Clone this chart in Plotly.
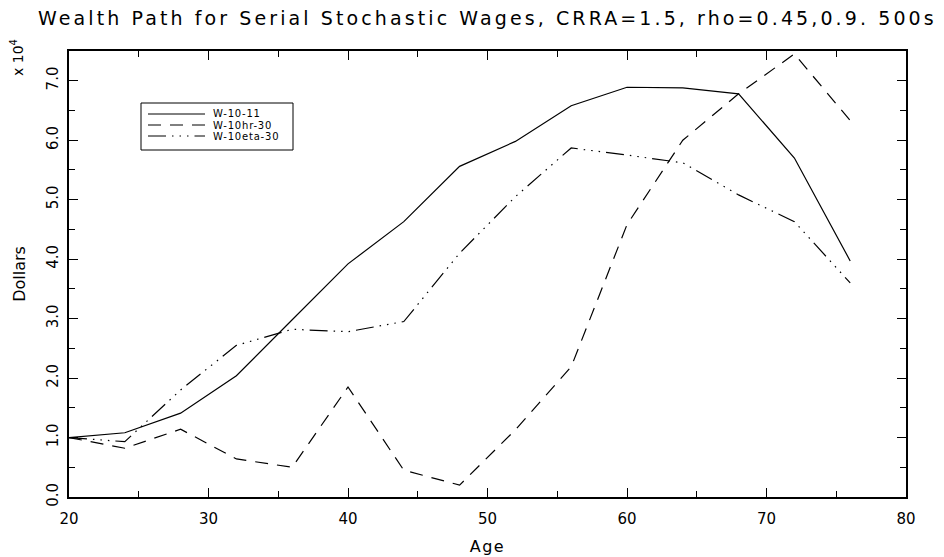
import plotly.graph_objects as go

# Ages at which wealth is recorded
ages = [20, 24, 28, 32, 36, 40, 44, 48, 52, 56, 60, 64, 68, 72, 76]

# Mean wealth paths, in units of 10^4 dollars
w_10_11 = [1.00, 1.08, 1.41, 2.04, 2.98, 3.92, 4.63, 5.56, 5.98, 6.58, 6.89, 6.88, 6.78, 5.70, 3.97]
w_10hr_30 = [1.00, 0.82, 1.14, 0.64, 0.50, 1.85, 0.45, 0.20, 1.13, 2.19, 4.58, 6.00, 6.78, 7.45, 6.33]
w_10eta_30 = [1.00, 0.93, 1.80, 2.55, 2.82, 2.78, 2.95, 4.10, 5.05, 5.87, 5.75, 5.62, 5.08, 4.63, 3.60]

series_names = ["W-10-11", "W-10hr-30", "W-10eta-30"]

x_ticks = [20, 30, 40, 50, 60, 70, 80]
y_ticks = [0, 1, 2, 3, 4, 5, 6, 7]
y_tick_text = ["0.0", "1.0", "2.0", "3.0", "4.0", "5.0", "6.0", "7.0"]

FONT = "DejaVu Sans"
W, H = 944, 557
ML, MR, MT, MB = 69, 38, 51, 60
PW, PH = W - ML - MR, H - MT - MB

DASHES = ["solid", "13px,9px", "18px,6px,1.5px,6px,1.5px,6px,1.5px,6px"]


def px(xpix):
    """Page x pixel -> paper coordinate."""
    return (xpix - ML) / PW


def py(ypix):
    """Page y pixel -> paper coordinate."""
    return (H - MB - ypix) / PH


def spaced(text, gap):
    return f'<span style="letter-spacing:{gap}px">{text}</span>'


fig = go.Figure()
for name, vals, dash in zip(series_names, [w_10_11, w_10hr_30, w_10eta_30], DASHES):
    fig.add_trace(go.Scatter(x=ages, y=vals, mode="lines", name=name, showlegend=False,
                             line=dict(color="black", width=1.2, dash=dash)))

fig.update_layout(
    width=W, height=H,
    margin=dict(l=ML, r=MR, t=MT, b=MB, autoexpand=False),
    paper_bgcolor="white", plot_bgcolor="white",
    font=dict(family=FONT, color="black", size=14),
    title=dict(text=spaced("Wealth Path for Serial Stochastic Wages, CRRA=1.5, rho=0.45,0.9. 500s", 3.1),
               x=38 / W, xanchor="left", y=1 - 18 / H, yanchor="middle",
               font=dict(family=FONT, size=19, color="black")),
    showlegend=False,
)

fig.update_xaxes(
    range=[20, 80], tickvals=x_ticks, ticktext=[str(v) for v in x_ticks],
    ticks="inside", ticklen=9, tickwidth=1, tickcolor="black", ticklabelstandoff=7,
    showline=True, linecolor="black", linewidth=2, mirror="allticks",
    showgrid=False, zeroline=False, automargin=False,
    tickfont=dict(family=FONT, size=15, color="black"),
    minor=dict(dtick=5, tick0=0, ticks="inside", ticklen=6, tickwidth=1, tickcolor="black"),
    title=dict(text=spaced("Age", 1.5), font=dict(family=FONT, size=16, color="black"), standoff=14),
)
fig.update_yaxes(
    range=[0, 7.5], tickvals=y_ticks, ticktext=y_tick_text, tickangle=-90,
    ticks="inside", ticklen=9, tickwidth=1, tickcolor="black", ticklabelstandoff=3,
    showline=True, linecolor="black", linewidth=2, mirror="allticks",
    showgrid=False, zeroline=False, automargin=False,
    tickfont=dict(family=FONT, size=15, color="black"),
    minor=dict(dtick=0.5, tick0=0, ticks="inside", ticklen=6, tickwidth=1, tickcolor="black"),
    title=dict(text="Dollars", font=dict(family=FONT, size=16, color="black"), standoff=14),
)

# Exponent marker for the y axis scale
fig.add_annotation(text="x 10<sup>4</sup>", xref="paper", yref="paper",
                   x=px(17), y=py(58), xanchor="center", yanchor="middle",
                   textangle=-90, showarrow=False,
                   font=dict(family=FONT, size=14, color="black"))

# Boxed key in the upper left of the plot
fig.add_shape(type="rect", xref="paper", yref="paper",
              x0=px(141), x1=px(293), y0=py(150), y1=py(103),
              line=dict(color="black", width=1), fillcolor="white", layer="above")
row_y = [114, 125, 136]
for name, dash, ry in zip(series_names, DASHES, row_y):
    fig.add_shape(type="line", xref="paper", yref="paper",
                  x0=px(148), x1=px(205), y0=py(ry), y1=py(ry),
                  line=dict(color="black", width=1, dash=dash), layer="above")
    fig.add_annotation(text=spaced(name, 0.8), xref="paper", yref="paper",
                       x=px(211), y=py(ry), xanchor="left", yanchor="middle",
                       showarrow=False, font=dict(family=FONT, size=10, color="black"))

fig.write_html("out.html")
